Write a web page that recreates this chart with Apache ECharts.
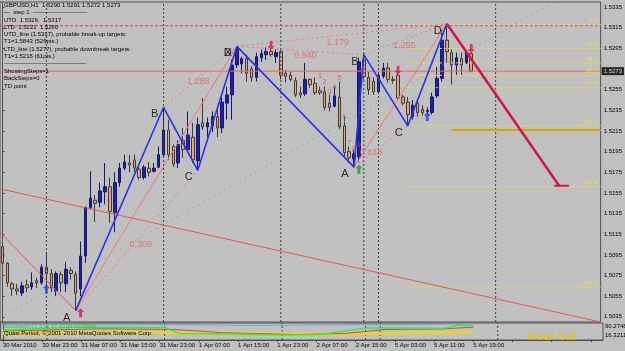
<!DOCTYPE html>
<html>
<head>
<meta charset="utf-8">
<title>GBPUSD,H1</title>
<script src="https://cdn.jsdelivr.net/npm/echarts@6/dist/echarts.min.js"></script>
<style>
*{margin:0;padding:0;}
body{background:#c0c0c0;}
#main{width:625px;height:351px;}
</style>
</head>
<body>
<div id="main"></div>
<script>
// ---- data ----
var barCount = 123; // 97 hourly bars + empty space on the right
var tickLabels = ['30 Mar 2010','30 Mar 23:00','31 Mar 07:00','31 Mar 15:00','31 Mar 23:00','1 Apr 07:00',
  '1 Apr 15:00','1 Apr 23:00','2 Apr 07:00','2 Apr 15:00','5 Apr 03:00','5 Apr 11:00','5 Apr 19:00'];
var priceTicks = [1.5035,1.5055,1.5075,1.5095,1.5115,1.5135,1.5155,1.5175,1.5195,1.5215,1.5235,1.5255,1.5295,1.5315,1.5335];

// [open, close, low, high]
var candles = [
 [1.5103,1.5087,1.5085,1.5105],[1.5087,1.5068,1.5064,1.5088],[1.5067,1.5062,1.5055,1.5069],[1.5062,1.5060,1.5056,1.5067],
 [1.5058,1.5065,1.5055,1.5069],[1.5066,1.5063,1.5059,1.5071],[1.5064,1.5068,1.5061,1.5078],[1.5070,1.5068,1.5063,1.5073],
 [1.5068,1.5083,1.5066,1.5086],[1.5083,1.5077,1.5061,1.5098],[1.5077,1.5063,1.5059,1.5081],[1.5060,1.5077,1.5055,1.5079],
 [1.5076,1.5068,1.5059,1.5079],[1.5067,1.5081,1.5059,1.5088],[1.5080,1.5077,1.5071,1.5083],[1.5076,1.5058,1.5041,1.5079],
 [1.5062,1.5094,1.5055,1.5108],[1.5094,1.5141,1.5087,1.5142],[1.5141,1.5150,1.5139,1.5176],[1.5148,1.5145,1.5127,1.5153],
 [1.5146,1.5157,1.5141,1.5165],[1.5156,1.5161,1.5144,1.5184],[1.5161,1.5137,1.5126,1.5170],[1.5136,1.5165,1.5117,1.5175],
 [1.5165,1.5179,1.5161,1.5184],[1.5179,1.5185,1.5177,1.5192],[1.5184,1.5182,1.5175,1.5192],[1.5187,1.5179,1.5175,1.5192],
 [1.5178,1.5170,1.5168,1.5182],[1.5170,1.5180,1.5168,1.5182],[1.5179,1.5175,1.5171,1.5185],[1.5176,1.5179,1.5175,1.5184],
 [1.5180,1.5192,1.5179,1.5200],[1.5192,1.5216,1.5189,1.5238],[1.5216,1.5192,1.5187,1.5226],[1.5200,1.5183,1.5180,1.5202],
 [1.5184,1.5202,1.5179,1.5206],[1.5206,1.5197,1.5189,1.5218],[1.5197,1.5211,1.5195,1.5234],[1.5209,1.5187,1.5184,1.5223],
 [1.5186,1.5221,1.5177,1.5228],[1.5223,1.5219,1.5216,1.5247],[1.5219,1.5223,1.5205,1.5228],[1.5220,1.5229,1.5214,1.5234],
 [1.5229,1.5218,1.5209,1.5238],[1.5218,1.5243,1.5213,1.5248],[1.5242,1.5250,1.5226,1.5258],[1.5250,1.5279,1.5226,1.5284],
 [1.5279,1.5295,1.5276,1.5297],[1.5280,1.5285,1.5271,1.5287],[1.5285,1.5271,1.5263,1.5289],[1.5275,1.5267,1.5263,1.5278],
 [1.5267,1.5287,1.5263,1.5291],[1.5286,1.5290,1.5282,1.5294],[1.5289,1.5292,1.5284,1.5296],[1.5292,1.5289,1.5287,1.5295],
 [1.5287,1.5291,1.5281,1.5294],[1.5292,1.5269,1.5265,1.5294],[1.5271,1.5268,1.5262,1.5274],[1.5269,1.5265,1.5263,1.5272],
 [1.5264,1.5250,1.5248,1.5267],[1.5252,1.5250,1.5247,1.5258],[1.5251,1.5265,1.5249,1.5281],[1.5265,1.5260,1.5257,1.5266],
 [1.5261,1.5252,1.5250,1.5267],[1.5254,1.5252,1.5250,1.5258],[1.5253,1.5238,1.5235,1.5258],[1.5242,1.5238,1.5234,1.5250],
 [1.5239,1.5249,1.5238,1.5258],[1.5248,1.5219,1.5217,1.5263],[1.5220,1.5194,1.5190,1.5229],[1.5195,1.5189,1.5184,1.5200],
 [1.5188,1.5193,1.5180,1.5197],[1.5190,1.5282,1.5185,1.5286],[1.5284,1.5268,1.5265,1.5289],[1.5267,1.5255,1.5250,1.5272],
 [1.5263,1.5253,1.5250,1.5267],[1.5253,1.5269,1.5252,1.5272],[1.5268,1.5276,1.5266,1.5281],[1.5276,1.5265,1.5262,1.5281],
 [1.5265,1.5264,1.5261,1.5268],[1.5269,1.5247,1.5245,1.5271],[1.5248,1.5242,1.5240,1.5250],[1.5243,1.5231,1.5220,1.5248],
 [1.5229,1.5240,1.5226,1.5245],[1.5242,1.5233,1.5229,1.5245],[1.5236,1.5233,1.5230,1.5240],[1.5234,1.5235,1.5231,1.5238],
 [1.5233,1.5248,1.5231,1.5252],[1.5249,1.5266,1.5247,1.5277],[1.5266,1.5303,1.5263,1.5313],[1.5303,1.5292,1.5281,1.5319],
 [1.5291,1.5279,1.5260,1.5294],[1.5279,1.5286,1.5269,1.5291],[1.5285,1.5279,1.5269,1.5291],[1.5281,1.5291,1.5280,1.5292],
 [1.5290,1.5273,1.5272,1.5291]
];
var bidPrice = 1.5273;

// zigzag pivots [bar, price] and their names
var zigzag = [[15,1.5041],[33,1.5238],[40,1.5177],[48,1.5297],[72,1.5180],[74,1.5289],[83,1.5220],[91,1.5319]];
var pivotNames = ['A','B','C','X','A','B','C','D'];
// ratio lines between pivots (indexes into zigzag)
var ratioPairs = [[0,2],[1,3],[3,5],[3,7],[5,7],[4,6]];
var ratioTexts = ['0.308','1.288','0.940','1.179','1.255','0.618'];
var legPairs = [[0,3],[4,7]];

var projection = [[91,1.5319],[114,1.5162]];
var projectionEnd = [[113,1.5162],[116,1.5162]];

var fibStart = 83;
var fibLevels = [1.5318,1.5295,1.5281,1.5269,1.5257,1.5220,1.5161,1.5064];
var fibNames = ['0.0','23.6','38.2','50.0','61.8','100.0','161.8','261.8'];
var targetLine = [[92,1.5216],[122.5,1.5216]];
var utdLevel = 1.5317;

var redTrend1 = [[-0.5,1.5159],[122.5,1.5030]];
var redTrend2 = [[-0.5,1.5117],[15,1.5041]];
var greenTrend = [[-0.5,1.5034],[113,1.5340]];
var separators = [9,33,57,74,77,101];

var countBars = [65,66,67,68,69,70,71,72,73];
var countPrices = [1.5268,1.5262,1.5253,1.5258,1.5266,1.5229,1.5203,1.5198,1.5201];
var countTexts = ['1','2','3','4','5','6','7','8','9'];

var arrowsDownRed = [[55,1.5298],[81,1.5274],[96,1.5295]];
var arrowsUpRed = [[16,1.5039]];
var arrowsUpBlue = [[9,1.5062],[87,1.5229]];
var arrowsUpGreen = [[73,1.5178]];

// lower window
var subMin = 16.3211, subMax = 90.2748;
var subLime = [[0,60],[16,73],[33,71],[36,45],[47,42],[57,38],[64,40],[67,47],[74,68],[78,70],[90,66],[93,82],[96,78]];
var subRed = [[0,55],[20,65],[35,62],[45,48],[60,40],[70,45],[78,62],[90,65],[96,72]];
var subBlue = [[0,85],[30,84],[50,80],[70,82],[96,86]];
var subYellow = [[0,45],[40,50],[70,42],[96,52]];

var infoLines = ['GBPUSD,H1  1.5290 1.5291 1.5272 1.5273','---  step 1  ---------------------------',
  'UTD  1.5326,  1.5317','LTD  1.5221  1.5260','UTD_line (1.5317), probable break-up targets:',
  'T1=1.5843 (526pts.)','LTD_line (1.5277), probable downbreak targets:','T1=1.5216 (61pts.)',
  '-----------------------------------------','ShowingSteps=1','BackSteps=0','TD point'];

// ---- chart ----
var chart = echarts.init(document.getElementById('main'));
var FONT = 'Liberation Sans';
var categories = [];
for (var i = 0; i < barCount; i++) categories.push(i);

function seg(pts, style, xi, yi) {
  return { type: 'line', xAxisIndex: xi == null ? 1 : xi, yAxisIndex: yi == null ? 0 : yi, data: pts,
    symbol: 'none', silent: true, animation: false, lineStyle: style, z: 3 };
}

var series = [];
series.push({
  type: 'candlestick', xAxisIndex: 0, yAxisIndex: 0, data: candles, barWidth: 3, z: 2,
  itemStyle: { color: '#2020a8', color0: '#eca374', borderColor: '#18186a', borderColor0: '#3c3c3c', borderWidth: 1 }
});

// separators
separators.forEach(function (b) {
  series.push(seg([[b, 1.5030], [b, 1.5340]], { color: '#404040', type: [2, 2], width: 1 }));
  series.push(seg([[b, subMin], [b, subMax]], { color: '#404040', type: [2, 2], width: 1 }, 3, 2));
});
// UTD line
series.push(seg([[-0.5, utdLevel], [122.5, utdLevel]], { color: '#c8408a', type: [3, 2], width: 1 }));
// bid line
series.push(seg([[-0.5, bidPrice], [122.5, bidPrice]], { color: '#e86a6a', width: 1 }));
series.push({
  type: 'scatter', xAxisIndex: 1, yAxisIndex: 0, symbolSize: 0, silent: true, animation: false, z: 8, clip: false,
  data: [[122.5, bidPrice]],
  label: { show: true, position: 'right', distance: 1, formatter: function () { return bidPrice.toFixed(4); },
    backgroundColor: '#000', color: '#fff', fontSize: 6, fontFamily: FONT, padding: [1, 2, 1, 2] }
});
// fib lines
fibLevels.forEach(function (lv) {
  series.push(seg([[fibStart, lv], [122.5, lv]], { color: '#f0e040', type: [2, 2], width: 1 }));
});
series.push(seg(targetLine, { color: '#d8a400', width: 2 }));
// trend lines
series.push(seg(redTrend1, { color: '#e05a5a', width: 1 }));
series.push(seg(redTrend2, { color: '#e05a5a', width: 1 }));
series.push(seg(greenTrend, { color: '#38c038', type: [1, 5], width: 1 }));
// pattern legs
legPairs.forEach(function (p) {
  series.push(seg([zigzag[p[0]], zigzag[p[1]]], { color: '#f07878', width: 1 }));
});
ratioPairs.forEach(function (p) {
  series.push(seg([zigzag[p[0]], zigzag[p[1]]], { color: '#f07878', type: [2, 3], width: 1 }));
});
// zigzag
series.push(Object.assign(seg(zigzag, { color: '#2a32ee', width: 1.6 }), { z: 4 }));
// projection
series.push(Object.assign(seg(projection, { color: '#cc1848', width: 2.5 }), { z: 4 }));
series.push(Object.assign(seg(projectionEnd, { color: '#cc1848', width: 2 }), { z: 4 }));

// text labels
var ratioOffsets = [[4, 4], [-2, 5], [5, 5], [-4, 7], [-1, 6], [-10, 6]];
series.push({
  type: 'scatter', xAxisIndex: 1, yAxisIndex: 0, symbolSize: 0, silent: true, animation: false, z: 5,
  data: ratioPairs.map(function (p, k) {
    var a = zigzag[p[0]], b = zigzag[p[1]];
    return { value: [(a[0] + b[0]) / 2, (a[1] + b[1]) / 2], name: ratioTexts[k],
      label: { offset: ratioOffsets[k] } };
  }),
  label: { show: true, position: 'inside', formatter: '{b}', color: '#ee5e5e', fontSize: 9, fontFamily: FONT }
});
series.push({
  type: 'scatter', xAxisIndex: 1, yAxisIndex: 0, symbolSize: 0, silent: true, animation: false, z: 5,
  data: zigzag.map(function (p, k) { return { value: p, name: pivotNames[k] }; }).concat([{ value: zigzag[3], name: 'D' }]),
  label: { show: true, position: 'inside', offset: [-9, 7], formatter: '{b}', color: '#000', fontSize: 11, fontFamily: FONT }
});
series.push({
  type: 'scatter', xAxisIndex: 1, yAxisIndex: 0, symbolSize: 0, silent: true, animation: false, z: 5,
  data: countBars.map(function (b, k) { return { value: [b, countPrices[k]], name: countTexts[k] }; }),
  label: { show: true, position: 'inside', formatter: '{b}', color: '#e05050', fontSize: 7, fontFamily: FONT }
});
series.push({
  type: 'scatter', xAxisIndex: 1, yAxisIndex: 0, symbolSize: 0, silent: true, animation: false, z: 5,
  data: fibLevels.map(function (lv, k) { return { value: [122.3, lv], name: fibNames[k] }; }),
  label: { show: true, position: 'left', distance: 2, offset: [0, -4], formatter: '{b}', color: '#f0e040', fontSize: 6, fontFamily: FONT }
});

// arrows
var UP = 'path://M5,0 L10,5 L7,5 L7,12 L3,12 L3,5 L0,5 Z';
var DOWN = 'path://M3,0 L7,0 L7,7 L10,7 L5,12 L0,7 L3,7 Z';
function arrows(pts, sym, col) {
  return { type: 'scatter', xAxisIndex: 1, yAxisIndex: 0, data: pts, symbol: sym, symbolSize: [7, 9],
    itemStyle: { color: col }, silent: true, animation: false, z: 6 };
}
series.push(arrows(arrowsDownRed, DOWN, '#d81850'));
series.push(arrows(arrowsUpRed, UP, '#d81850'));
series.push(arrows(arrowsUpBlue, UP, '#2040e0'));
series.push(arrows(arrowsUpGreen, UP, '#10a030'));

// lower window lines
series.push(seg(subYellow, { color: '#e8d040', width: 3 }, 3, 2));
series.push(seg(subBlue, { color: '#6aa0f0', width: 1 }, 3, 2));
series.push(seg(subRed, { color: '#e04040', width: 1 }, 3, 2));
series.push(seg(subLime, { color: '#30f030', width: 1.5 }, 3, 2));

var infoTops = [6, 13, 21, 28, 35, 42, 50, 57, 64, 72, 79, 87];
var graphics = infoLines.map(function (t, k) {
  return { type: 'text', left: 4, top: infoTops[k] - 4, silent: true, z: 10,
    style: { text: t, fill: '#000', font: '6px ' + FONT } };
});
graphics.push({ type: 'text', left: 4, top: 323, silent: true, z: 10,
  style: { text: 'Stochastic(7,3,3) 57.4199 52.8548', fill: '#20d020', font: '6px ' + FONT } });
graphics.push({ type: 'text', left: 4, top: 330, silent: true, z: 10,
  style: { text: 'Quasi Period, \u00a9 2001-2010 MetaQuotes Software Corp.', fill: '#000', font: '6px ' + FONT } });
graphics.push({ type: 'text', left: 605, top: 323, silent: true, z: 10,
  style: { text: subMax.toFixed(4), fill: '#000', font: '6px ' + FONT } });
graphics.push({ type: 'text', left: 605, top: 332, silent: true, z: 10,
  style: { text: subMin.toFixed(4), fill: '#000', font: '6px ' + FONT } });
graphics.push({ type: 'text', left: 527, top: 331, silent: true, z: 10,
  style: { text: 'Weak Sell', fill: '#e8c000', font: '11px ' + FONT } });

var option = {
  backgroundColor: '#c0c0c0',
  animation: false,
  grid: [
    { left: 0, right: 22, top: 2, height: 320, show: true, borderColor: '#505050', borderWidth: 1, backgroundColor: 'transparent' },
    { left: 0, right: 22, top: 323, height: 17, show: true, borderColor: '#505050', borderWidth: 1, backgroundColor: 'transparent' }
  ],
  xAxis: [
    { type: 'category', gridIndex: 0, data: categories, boundaryGap: true, show: false },
    { type: 'value', gridIndex: 0, min: -0.5, max: barCount - 0.5, show: false },
    { type: 'category', gridIndex: 1, data: categories, boundaryGap: true, position: 'bottom',
      axisLine: { show: true, lineStyle: { color: '#505050' } },
      axisTick: { show: true, interval: 7, length: 2, alignWithLabel: true, lineStyle: { color: '#404040' } },
      axisLabel: { interval: 7, align: 'left', margin: 2, fontSize: 6, color: '#000', fontFamily: FONT,
        formatter: function (v, idx) { return idx % 8 === 0 ? (tickLabels[idx / 8] || '') : ''; } } },
    { type: 'value', gridIndex: 1, min: -0.5, max: barCount - 0.5, show: false }
  ],
  yAxis: [
    { type: 'value', gridIndex: 0, position: 'right', min: 1.5030, max: 1.5340,
      axisLine: { show: true, lineStyle: { color: '#505050' } },
      axisTick: { show: true, customValues: priceTicks, length: 2, lineStyle: { color: '#404040' } },
      axisLabel: { customValues: priceTicks, margin: 3, fontSize: 6, color: '#000', fontFamily: FONT,
        formatter: function (v) { return v.toFixed(4); } },
      splitLine: { show: false } },
    { type: 'value', gridIndex: 0, show: false, min: 0, max: 1 },
    { type: 'value', gridIndex: 1, position: 'right', min: subMin, max: subMax,
      axisLine: { show: true, lineStyle: { color: '#505050' } }, axisTick: { show: false },
      axisLabel: { show: false }, splitLine: { show: false } }
  ],
  series: series,
  graphic: graphics
};
chart.setOption(option);
</script>
</body>
</html>
